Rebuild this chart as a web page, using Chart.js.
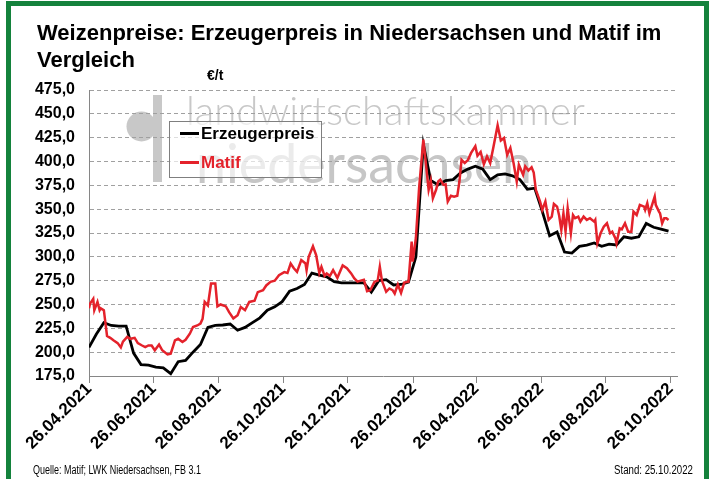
<!DOCTYPE html>
<html><head><meta charset="utf-8">
<script src="https://cdn.jsdelivr.net/npm/chart.js@4.4.1/dist/chart.umd.min.js"></script>
<style>
html,body{margin:0;padding:0;background:#fff;}
#wrap{position:relative;width:712px;height:479px;overflow:hidden;font-family:"Liberation Sans",Arial,sans-serif;background:#fff;}
#frame{position:absolute;left:6px;top:1px;width:703px;height:520px;border:5px solid #14823c;box-sizing:border-box;}
canvas{position:absolute;left:0;top:0;}
#title{position:absolute;left:37px;top:19px;font-size:22px;font-weight:bold;line-height:27px;color:#000;white-space:nowrap;}
#unit{position:absolute;left:207px;top:67px;font-size:14px;font-weight:bold;color:#000;}
#legend{position:absolute;left:169px;top:121px;width:153px;height:57px;border:1px solid #7f7f7f;box-sizing:border-box;background:rgba(255,255,255,0.65);}
.li{position:absolute;left:10px;height:20px;font-size:17px;font-weight:bold;line-height:20px;white-space:nowrap;}
.li span.ln{display:inline-block;width:19px;height:3px;vertical-align:middle;margin-right:2px;position:relative;top:-1px;}
.foot{position:absolute;top:463px;font-size:12px;font-family:"Liberation Sans",Arial,sans-serif;color:#000;white-space:nowrap;transform-origin:0 50%;}
</style></head>
<body>
<div id="wrap">
<canvas id="c" width="712" height="479"></canvas>
<div id="frame"></div>
<div id="title">Weizenpreise: Erzeugerpreis in Niedersachsen und Matif im<br>Vergleich</div>
<div id="unit">€/t</div>
<div id="legend">
  <div class="li" style="top:2px;color:#000"><span class="ln" style="background:#000"></span>Erzeugerpreis</div>
  <div class="li" style="top:31px;color:#e4222b"><span class="ln" style="background:#e4222b"></span>Matif</div>
</div>
<div id="foot1" class="foot" style="left:33px" data-w="168">Quelle: Matif; LWK Niedersachsen, FB 3.1</div>
<div id="foot2" class="foot" style="left:614px" data-w="79">Stand: 25.10.2022</div>
</div>
<script>
// ---- data ----
const xTickLabels = ['26.04.2021','26.06.2021','26.08.2021','26.10.2021','26.12.2021','26.02.2022','26.04.2022','26.06.2022','26.08.2022','26.10.2022'];
const axisStart = '26.04.2021';
const axisEnd = '01.11.2022';
const yMin = 175, yMax = 475, yStep = 25;

// Matif: trading days (days since 26.04.2021) and EUR/t
const matifDays = [
0,1,4,5,8,10,11,14,16,17,
20,23,27,30,32,36,39,43,46,50,
53,56,59,62,66,69,74,77,81,84,
88,91,95,98,102,105,107,109,112,115,
119,121,124,129,132,136,140,143,147,151,
156,159,164,167,171,175,179,184,187,190,
193,196,200,204,205,207,211,214,217,219,
222,224,227,230,234,239,243,247,250,253,
256,259,262,265,269,272,274,276,280,283,
286,288,291,294,297,301,304,305,308,311,
315,317,320,322,324,327,329,331,334,336,
338,341,344,347,349,351,354,357,360,364,
366,369,372,375,378,381,383,385,388,391,
394,397,400,403,405,409,411,414,417,419,
421,425,427,430,433,436,438,441,443,445,
447,449,451,454,456,458,461,463,466,469,
472,476,477,479,482,485,488,491,493,496,
497,500,502,505,508,511,513,516,519,523,
524,526,528,530,533,534,537,538,540,542,
544,546];
const matifValues = [
246,251,256,244,252.7,244,246,244,226,217,
215,212.4,209.5,205,211,216,214,215,209.5,207,
205.3,207,207,202,208,202,197.6,198.4,212.4,214,
210.6,213,219.4,226.4,228,230,235,252.7,249,272,
272,248,250,248,242,235.3,238.7,247.4,244,252.7,
254,263,265,270,273.8,275,280.8,284,283,293,
288,284.3,296.6,293,286,300,311,301.8,283,289.5,
280,282.6,280,286,278,291,288,282.6,277.4,274,
275,276,264,265,273.8,275,289.5,275,263.3,266.8,
265,261.5,271,262.2,273,273.8,315.9,295,320,372,
423,402,370.3,380,361.5,370.3,379,381,375.5,376,
358,364,363,364,379,401.8,398.4,401.5,409,416,
406,410,397,405.3,398.4,415,426.4,438,422,424.7,
407,414.2,398.4,379,396.6,386,395,390.5,394,388.5,
370.3,358,349.2,358,338.7,342.2,355.5,352.7,343,328.2,
345.7,326.4,351,324.7,343.9,340.5,342.2,336.9,342.2,338.7,
340.5,336.9,338.7,314.2,324.7,331.6,335.2,324.7,326.4,319.4,
314.2,330,328.9,335.2,326.4,326.4,347.4,343.9,354.5,352.7,
349.2,356.3,345.7,352.7,363.2,354.5,347.4,345.7,335.2,340.5,
340.5,338.7];

// Erzeugerpreis: weekly quotes starting 26.04.2021, EUR/t
const erzeugerStart = '26.04.2021';
const erzeugerValues = [
205,219,231,228,227.4,227.4,199,187,186.4,184.3,
183.6,177.5,190,191.3,200,208,226,228,228.5,229.5,
223,226,231,236,244,247.5,253,264,266.8,271,
283,280.8,279,274,272.7,272.7,272.7,272.7,263,275,
276,270.5,271,273.5,300,418,380,375.5,380,381,
388,392,395,392,381,386,387,385,381,371,
372,348,322,326,305,304,311,312.4,314.5,311,
313.4,312.5,321,319.5,321,335,331,329,327];

// ---- helpers ----
function dayOf(s){const [d,m,y]=s.split('.').map(Number);const [d0,m0,y0]=axisStart.split('.').map(Number);
  return Math.round((Date.UTC(y,m-1,d)-Date.UTC(y0,m0-1,d0))/86400000);}
const tickDays = xTickLabels.map(dayOf);
const erzOffset = dayOf(erzeugerStart);
const FONT = '"Liberation Sans", Arial, sans-serif';
Chart.defaults.font.family = FONT;

// condense footer text like the narrow original font
document.querySelectorAll('.foot').forEach(el=>{
  const k = Number(el.dataset.w) / el.getBoundingClientRect().width;
  el.style.transform = 'scaleX(' + k + ')';
});

function drawFit(ctx, text, x, y, w, font){
  ctx.font = font;
  const m = ctx.measureText(text).width;
  ctx.save(); ctx.translate(x, y); ctx.scale(w/m, 1); ctx.fillText(text, 0, 0); ctx.restore();
}
const watermark = {
  id:'watermark',
  beforeDraw(chart){
    const ctx = chart.ctx;
    ctx.save();
    ctx.fillStyle = '#c8c8c8';
    ctx.beginPath(); ctx.arc(141.5,126.5,15,0,Math.PI*2); ctx.fill();
    ctx.fillRect(153,95,9,87);
    ctx.textBaseline = 'alphabetic';
    drawFit(ctx,'landwirtschaftskammer',186,125,399,'300 40px Lato, "Open Sans", sans-serif');
    ctx.fillStyle = '#c6c6c6';
    drawFit(ctx,'niedersachsen',196,183,336,'400 54px Lato, "Open Sans", sans-serif');
    ctx.restore();
  }
};

new Chart(document.getElementById('c'), {
  type:'line',
  data:{datasets:[
    {label:'Matif', data:matifDays.map((d,i)=>({x:d,y:matifValues[i]})), borderColor:'#e4222b', borderWidth:2.5, pointRadius:0, tension:0, order:0},
    {label:'Erzeugerpreis', data:erzeugerValues.map((v,i)=>({x:erzOffset+i*7,y:v})), borderColor:'#000000', borderWidth:2.8, pointRadius:0, tension:0, order:1}
  ]},
  options:{
    responsive:false, animation:false, devicePixelRatio:1,
    layout:{padding:{left:0,top:90,right:35,bottom:0}, autoPadding:false},
    plugins:{legend:{display:false}, tooltip:{enabled:false}},
    scales:{
      x:{type:'linear', min:0, max:dayOf(axisEnd),
        afterBuildTicks:s=>{s.ticks = tickDays.map(v=>({value:v}));},
        afterFit:s=>{s.height = 103;},
        grid:{drawOnChartArea:false, drawTicks:true, tickLength:7, color:'#868686'},
        border:{color:'#868686', width:1},
        ticks:{autoSkip:false, maxRotation:45, minRotation:45, padding:-4, color:'#000',
          font:{size:17, weight:'bold'}, callback:(v,i)=>xTickLabels[i]}
      },
      y:{min:yMin, max:yMax,
        afterFit:s=>{s.width = 89;},
        grid:{color:'#a0a0a0', drawTicks:false, lineWidth:1},
        border:{color:'#868686', width:1, dash:[4,3]},
        ticks:{stepSize:yStep, padding:14, color:'#000', font:{size:16, weight:'bold'},
          callback:v=>v.toFixed(1).replace('.',',')}
      }
    }
  },
  plugins:[watermark]
});
</script>
</body></html>
